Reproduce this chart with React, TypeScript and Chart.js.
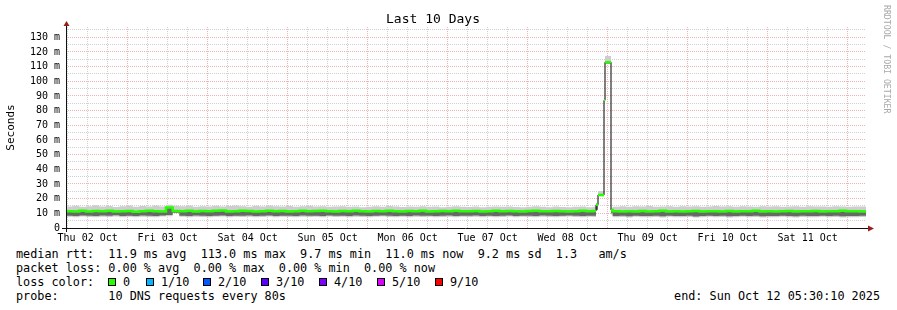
import React, { useEffect, useRef } from 'react';
import { Chart, registerables } from 'chart.js';

Chart.register(...registerables);

const MONO = '"DejaVu Sans Mono", monospace';

const TITLE = 'Last 10 Days';
const Y_LABEL = 'Seconds';
const DAY_LABELS = ['Thu 02 Oct', 'Fri 03 Oct', 'Sat 04 Oct', 'Sun 05 Oct', 'Mon 06 Oct', 'Tue 07 Oct', 'Wed 08 Oct', 'Thu 09 Oct', 'Fri 10 Oct', 'Sat 11 Oct'];
const Y_MAX = 137; // ms
const X_MAX = 240; // hours shown (10 days)

// hours since Thu 02 Oct 05:30:10
const HOURS = [
  0, 2, 4, 6, 8, 10, 12, 14, 16, 18,
  20, 22, 24, 26, 28, 30, 32, 34, 36, 38,
  40, 42, 44, 46, 48, 50, 52, 54, 56, 58,
  60, 62, 64, 66, 68, 70, 72, 74, 76, 78,
  80, 82, 84, 86, 88, 90, 92, 94, 96, 98,
  100, 102, 104, 106, 108, 110, 112, 114, 116, 118,
  120, 122, 124, 126, 128, 130, 132, 134, 136, 138,
  140, 142, 144, 146, 148, 150, 152, 154, 156, 158,
  159.0, 159.6, 161.4, 161.7, 163.5,
  164, 166, 168, 170, 172, 174, 176, 178, 180, 182,
  184, 186, 188, 190, 192, 194, 196, 198, 200, 202,
  204, 206, 208, 210, 212, 214, 216, 218, 220, 222,
  224, 226, 228, 230, 232, 234, 236, 238, 240,
];

// median RTT (ms)
const MEDIAN = [
  11.5, 11.3, 11.7, 11.2, 11.6, 11.4, 11.8, 11.3, 11.5, 11.6,
  11.1, 11.5, 11.7, 11.4, 11.3, 13.9, 11.6, 11.5, 11.8, 11.3,
  11.6, 11.4, 11.7, 11.9, 11.3, 11.5, 11.8, 11.6, 11.2, 11.5,
  11.7, 11.4, 11.6, 11.3, 11.5, 11.7, 11.4, 11.6, 11.8, 11.5,
  11.3, 11.6, 11.5, 11.7, 11.4, 11.2, 11.6, 11.5, 11.8, 11.4,
  11.3, 11.6, 11.5, 11.7, 11.3, 11.5, 11.6, 11.4, 11.7, 11.5,
  11.4, 11.6, 11.3, 11.5, 11.7, 11.4, 11.6, 11.5, 11.3, 11.6,
  11.8, 11.5, 11.4, 11.6, 11.5, 11.3, 11.5, 11.7, 11.4, 11.6,
  15.8, 22.5, 87.0, 113.0, 12.3,
  11.4, 11.2, 11.5, 11.3, 11.6, 11.2, 11.4, 11.7, 11.3, 11.5,
  11.2, 11.4, 11.6, 11.3, 11.5, 11.4, 11.2, 11.6, 11.3, 11.5,
  11.4, 11.7, 11.3, 11.5, 11.2, 11.4, 11.6, 11.3, 11.5, 11.4,
  11.6, 11.3, 11.5, 11.4, 11.7, 11.4, 11.5, 11.3, 11.4,
];

// highest ping of each round (ms)
const SMOKE_HI = [
  14.6, 15.2, 14.4, 14.9, 15.5, 14.7, 15.0, 14.3, 14.8, 15.3,
  14.5, 15.0, 14.7, 15.4, 14.6, 15.8, 15.1, 14.8, 15.3, 14.5,
  14.9, 14.6, 15.2, 14.7, 15.0, 15.4, 14.8, 14.5, 15.1, 14.7,
  15.3, 14.9, 14.6, 15.0, 14.4, 14.8, 15.2, 14.7, 14.9, 14.5,
  14.6, 14.9, 14.4, 14.7, 14.2, 14.5, 14.8, 14.4, 15.0, 14.6,
  14.3, 14.7, 14.5, 14.9, 14.4, 14.6, 14.2, 14.5, 14.8, 14.4,
  14.3, 14.6, 14.2, 14.5, 14.7, 14.4, 14.6, 14.3, 14.1, 14.5,
  14.8, 14.4, 14.2, 14.6, 14.3, 14.1, 14.4, 14.6, 14.2, 14.5,
  17.0, 25.2, 88.5, 117.2, 13.8,
  14.5, 14.8, 14.4, 14.9, 14.6, 15.0, 14.5, 14.7, 14.9, 14.4,
  14.8, 14.6, 14.9, 14.5, 14.7, 15.0, 14.6, 14.8, 14.4, 14.9,
  14.7, 14.5, 14.8, 14.6, 14.9, 14.4, 14.7, 14.8, 14.5, 14.9,
  14.6, 14.7, 14.4, 14.8, 14.6, 14.5, 14.7, 14.6, 14.6,
];

// lowest ping of each round (ms)
const SMOKE_LO = [
  7.6, 7.4, 7.8, 7.5, 7.3, 7.7, 7.5, 7.9, 7.4, 7.6,
  7.3, 7.7, 7.5, 7.4, 7.8, 8.0, 10.2, 7.6, 7.4, 7.7,
  7.5, 7.3, 7.6, 7.8, 7.4, 7.6, 7.5, 7.7, 7.3, 7.5,
  7.8, 7.4, 7.6, 7.5, 7.3, 7.7, 7.5, 7.6, 7.4, 7.8,
  7.5, 7.6, 7.3, 7.7, 7.5, 7.4, 7.6, 7.8, 7.5, 7.3,
  7.6, 7.4, 7.7, 7.5, 7.6, 7.3, 7.5, 7.7, 7.4, 7.6,
  7.5, 7.7, 7.4, 7.6, 7.3, 7.5, 7.8, 7.4, 7.6, 7.5,
  7.3, 7.7, 7.5, 7.4, 7.6, 7.8, 7.5, 7.3, 7.6, 7.5,
  12.0, 21.6, 86.0, 111.8, 9.2,
  7.3, 7.5, 7.2, 7.6, 7.4, 7.3, 7.5, 7.2, 7.6, 7.4,
  7.3, 7.5, 7.1, 7.4, 7.6, 7.3, 7.5, 7.2, 7.4, 7.6,
  7.3, 7.5, 7.2, 7.4, 7.3, 7.6, 7.4, 7.2, 7.5, 7.3,
  7.4, 7.6, 7.3, 7.5, 7.2, 7.4, 7.3, 7.5, 7.4,
];

// lower edge of the dense smoke below the median (ms)
const DARK_LO = [
  8.4, 8.2, 8.6, 8.3, 8.1, 8.5, 8.3, 8.7, 8.2, 8.4,
  8.1, 8.5, 8.3, 8.2, 8.6, 8.8, 10.4, 8.4, 8.2, 8.5,
  8.3, 8.1, 8.4, 8.6, 8.2, 8.4, 8.3, 8.5, 8.1, 8.3,
  8.6, 8.2, 8.4, 8.3, 8.1, 8.5, 8.3, 8.4, 8.2, 8.6,
  8.3, 8.4, 8.1, 8.5, 8.3, 8.2, 8.4, 8.6, 8.3, 8.1,
  8.4, 8.2, 8.5, 8.3, 8.4, 8.1, 8.3, 8.5, 8.2, 8.4,
  8.3, 8.5, 8.2, 8.4, 8.1, 8.3, 8.6, 8.2, 8.4, 8.3,
  8.1, 8.5, 8.3, 8.2, 8.4, 8.6, 8.3, 8.1, 8.4, 8.3,
  12.5, 21.9, 86.2, 112.2, 10.0,
  8.1, 8.3, 8.0, 8.4, 8.2, 8.1, 8.3, 8.0, 8.4, 8.2,
  8.1, 8.3, 7.9, 8.2, 8.4, 8.1, 8.3, 8.0, 8.2, 8.4,
  8.1, 8.3, 8.0, 8.2, 8.1, 8.4, 8.2, 8.0, 8.3, 8.1,
  8.2, 8.4, 8.1, 8.3, 8.0, 8.2, 8.1, 8.3, 8.2,
];

const STATS_LINES = [
  'median rtt:  11.9 ms avg  113.0 ms max  9.7 ms min  11.0 ms now  9.2 ms sd  1.3   am/s',
  'packet loss: 0.00 % avg  0.00 % max  0.00 % min  0.00 % now',
];
const LOSS_TITLE = 'loss color:';
const LOSS_LABELS = ['0', '1/10', '2/10', '3/10', '4/10', '5/10', '9/10'];
const LOSS_COLORS = ['#26ff00', '#00b8ff', '#0059ff', '#5e00ff', '#7e00ff', '#dd00ff', '#ff0000'];
const LOSS_BOX_X = [108, 146, 203, 261, 319, 377, 435];
const PROBE_LINE = 'probe:       10 DNS requests every 80s';
const END_LINE = 'end: Sun Oct 12 05:30:10 2025';
const CREDIT = 'RRDTOOL / TOBI OETIKER';

const MINOR = 'rgba(150,150,150,0.45)';
const MAJOR = 'rgba(225,120,120,0.55)';

const axesPlugin = {
  id: 'rrdAxes',
  afterDatasetsDraw(chart: any) {
    const { ctx, chartArea } = chart;
    const { left, right, top, bottom } = chartArea;
    ctx.save();
    ctx.strokeStyle = '#111';
    ctx.lineWidth = 1;
    ctx.beginPath();
    ctx.moveTo(left - 4, bottom + 0.5);
    ctx.lineTo(right + 3, bottom + 0.5);
    ctx.moveTo(left + 0.5, bottom + 4);
    ctx.lineTo(left + 0.5, top - 2);
    ctx.stroke();
    ctx.fillStyle = '#9b1c1c';
    ctx.beginPath();
    ctx.moveTo(right + 2, bottom + 0.5 - 3);
    ctx.lineTo(right + 8, bottom + 0.5);
    ctx.lineTo(right + 2, bottom + 0.5 + 3);
    ctx.closePath();
    ctx.fill();
    ctx.beginPath();
    ctx.moveTo(left + 0.5 - 3, top - 1);
    ctx.lineTo(left + 0.5, top - 6);
    ctx.lineTo(left + 0.5 + 3, top - 1);
    ctx.closePath();
    ctx.fill();
    ctx.restore();
  },
};

export default function App() {
  const ref = useRef<HTMLCanvasElement | null>(null);

  useEffect(() => {
    if (!ref.current) return;
    const pts = (arr: number[]) => HOURS.map((h, i) => ({ x: h, y: arr[i] }));

    const green: any[] = [];
    for (let i = 0; i < HOURS.length - 1; i++) {
      green.push({ x: HOURS[i], y: MEDIAN[i] }, { x: HOURS[i + 1], y: MEDIAN[i] });
      if (Math.abs(MEDIAN[i + 1] - MEDIAN[i]) > 4) green.push({ x: HOURS[i + 1], y: null });
    }

    const xTicks: number[] = [];
    for (let k = 0; k < 40; k++) xTicks.push(0.5 + 6 * k);

    const chart = new Chart(ref.current, {
      type: 'line',
      data: {
        datasets: [
          { data: pts(SMOKE_LO), borderWidth: 0, borderColor: 'transparent', pointRadius: 0, stepped: true, fill: false, order: 10 },
          { data: pts(SMOKE_HI), borderWidth: 0, borderColor: 'transparent', backgroundColor: '#cdcdcd', pointRadius: 0, stepped: true, fill: { target: 0 }, order: 9 },
          { data: pts(DARK_LO), borderWidth: 0, borderColor: 'transparent', pointRadius: 0, stepped: true, fill: false, order: 8 },
          { data: pts(MEDIAN), borderWidth: 1, borderColor: '#000', backgroundColor: '#686868', pointRadius: 0, stepped: true, fill: { target: 2 }, order: 7 },
          { data: green, borderWidth: 2.5, borderColor: '#26ff00', pointRadius: 0, spanGaps: false, fill: false, order: 1 },
        ],
      } as any,
      options: {
        animation: false,
        responsive: false,
        devicePixelRatio: 1,
        layout: { padding: { left: 0, right: 31, top: 0, bottom: 0 } },
        plugins: {
          legend: { display: false },
          tooltip: { enabled: false },
          title: {
            display: true,
            text: TITLE,
            color: '#000',
            font: { family: MONO, size: 13, weight: 'normal', lineHeight: '14px' } as any,
            padding: { top: 13, bottom: 0 },
          },
        },
        scales: {
          x: {
            type: 'linear',
            min: 0,
            max: X_MAX,
            afterBuildTicks: (s: any) => { s.ticks = xTicks.map((v) => ({ value: v })); },
            afterFit: (s: any) => { s.height = 17; },
            ticks: {
              autoSkip: false,
              maxRotation: 0,
              minRotation: 0,
              padding: 4,
              color: '#000',
              font: { family: MONO, size: 10 },
              callback: (_v: any, i: number) => (i % 4 === 1 ? DAY_LABELS[(i - 1) / 4] : ''),
            },
            grid: {
              drawTicks: false,
              lineWidth: 1,
              color: (c: any) => (c.index % 4 === 3 ? MAJOR : MINOR),
            },
            border: { display: false, dash: [1, 1] },
          },
          y: {
            type: 'linear',
            min: 0,
            max: Y_MAX,
            afterBuildTicks: (s: any) => {
              const t: any[] = [];
              for (let v = 0; v <= 135; v += 5) t.push({ value: v });
              s.ticks = t;
            },
            afterFit: (s: any) => { s.width = 66; },
            ticks: {
              autoSkip: false,
              padding: 6,
              color: '#000',
              font: { family: MONO, size: 10 },
              callback: (v: any) => (v % 10 === 0 ? (v === 0 ? '0' : `${v} m`) : ''),
            },
            grid: {
              drawTicks: false,
              lineWidth: 1,
              color: (c: any) => (c.tick && c.tick.value % 10 === 0 ? MAJOR : MINOR),
            },
            border: { display: false, dash: [1, 1] },
            title: {
              display: true,
              text: Y_LABEL,
              color: '#000',
              font: { family: MONO, size: 11 },
              padding: { top: 4.4, bottom: 0 },
            },
          },
        },
      } as any,
      plugins: [axesPlugin],
    });
    return () => chart.destroy();
  }, []);

  const textStyle: React.CSSProperties = {
    position: 'absolute',
    fontFamily: MONO,
    fontSize: '11.8px',
    lineHeight: '14px',
    color: '#000',
    whiteSpace: 'pre',
  };

  return (
    <div style={{ position: 'fixed', left: 0, top: 0, width: 897, height: 310, background: '#fff', overflow: 'hidden' }}>
      <canvas ref={ref} width={897} height={245} style={{ position: 'absolute', left: 0, top: 0, width: 897, height: 245 }} />
      <div
        style={{
          position: 'absolute',
          left: 882,
          top: 5,
          writingMode: 'vertical-rl',
          fontFamily: MONO,
          fontSize: '8.2px',
          lineHeight: '10px',
          color: '#a8a8a8',
          whiteSpace: 'pre',
        }}
      >
        {CREDIT}
      </div>
      <div style={{ ...textStyle, left: 16, top: 247 }}>{STATS_LINES.join('\n')}</div>
      <div style={{ ...textStyle, left: 16, top: 275 }}>{LOSS_TITLE}</div>
      {LOSS_LABELS.map((lab, i) => (
        <React.Fragment key={lab}>
          <div
            style={{
              position: 'absolute',
              left: LOSS_BOX_X[i],
              top: 278,
              width: 6,
              height: 6,
              border: '1px solid #000',
              background: LOSS_COLORS[i],
            }}
          />
          <div style={{ ...textStyle, left: LOSS_BOX_X[i] + 15, top: 275 }}>{lab}</div>
        </React.Fragment>
      ))}
      <div style={{ ...textStyle, left: 16, top: 289 }}>{PROBE_LINE}</div>
      <div style={{ ...textStyle, right: 17, top: 289 }}>{END_LINE}</div>
    </div>
  );
}
